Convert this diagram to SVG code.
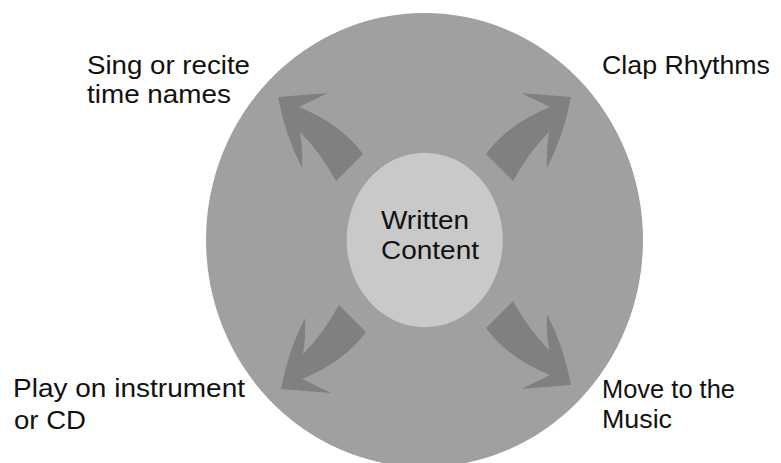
<svg xmlns="http://www.w3.org/2000/svg" width="781" height="463" viewBox="0 0 781 463">
<style>
.lbl{font-family:"Liberation Sans",Arial,sans-serif;font-size:26px;fill:#111;}
.arrow{fill:#808080;}
</style>
<defs>
<path id="arw" d="M278,97 L328,93 L299,107 Q341,124 363,154 L336,181 Q320,152 300,132 Q303,150 302,168 Q285,135 278,97 Z"/>
</defs>
<rect x="0" y="0" width="781" height="463" fill="#ffffff"/>
<g id="outer">
<ellipse cx="424.5" cy="240" rx="218.5" ry="227" fill="#a0a0a0"/>
</g>
<g id="connectors">
<use href="#arw" class="arrow"/>
<use href="#arw" class="arrow" transform="translate(849,0) scale(-1,1)"/>
<use href="#arw" class="arrow" transform="translate(3,486) scale(1,-1)"/>
<use href="#arw" class="arrow" transform="translate(849,482) scale(-1,-1)"/>
</g>
<g id="center">
<ellipse cx="424.7" cy="240" rx="78" ry="87.3" fill="#c9c9c9"/>
<text class="lbl" x="381" y="229" textLength="88" lengthAdjust="spacingAndGlyphs">Written</text>
<text class="lbl" x="381" y="259" textLength="98" lengthAdjust="spacingAndGlyphs">Content</text>
</g>
<g id="sing">
<text class="lbl" x="87" y="74" textLength="163" lengthAdjust="spacingAndGlyphs">Sing or recite</text>
<text class="lbl" x="87" y="103" textLength="144" lengthAdjust="spacingAndGlyphs">time names</text>
</g>
<g id="clap">
<text class="lbl" x="602" y="74" textLength="168" lengthAdjust="spacingAndGlyphs">Clap Rhythms</text>
</g>
<g id="play">
<text class="lbl" x="13" y="397" textLength="232" lengthAdjust="spacingAndGlyphs">Play on instrument</text>
<text class="lbl" x="14" y="429" textLength="72" lengthAdjust="spacingAndGlyphs">or CD</text>
</g>
<g id="move">
<text class="lbl" x="602" y="398" textLength="133" lengthAdjust="spacingAndGlyphs">Move to the</text>
<text class="lbl" x="602" y="428" textLength="70" lengthAdjust="spacingAndGlyphs">Music</text>
</g>
</svg>
